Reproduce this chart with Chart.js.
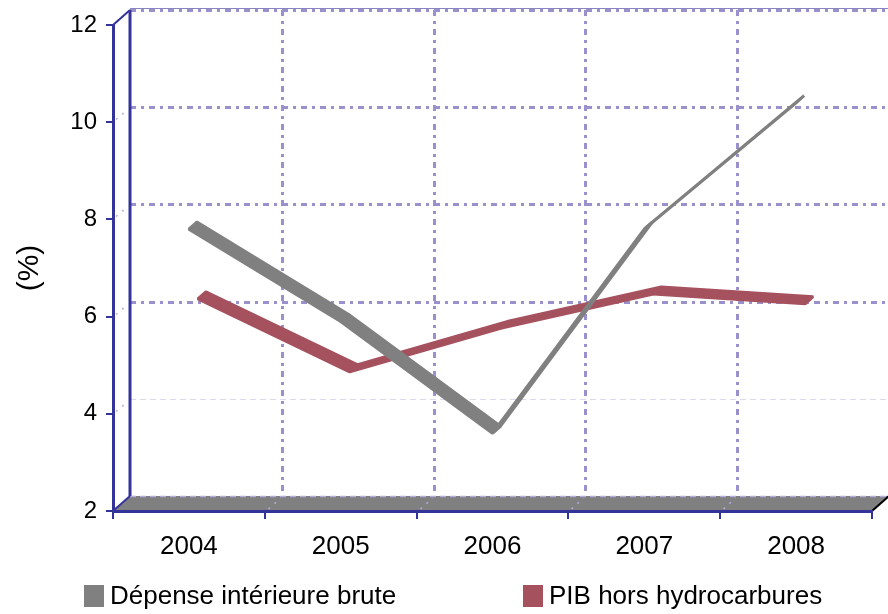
<!DOCTYPE html>
<html lang="fr">
<head>
  <meta charset="UTF-8" />
  <title>Dépense intérieure brute et PIB hors hydrocarbures</title>
  <style>
    html, body { margin: 0; padding: 0; background: #fff; }
    #wrap { width: 888px; height: 614px; }
  </style>
</head>
<body>
  <div id="wrap"><canvas id="myChart" width="888" height="614"></canvas></div>

  <script src="https://cdn.jsdelivr.net/npm/chart.js"></script>
  <script>
    // data
    const years = ['2004', '2005', '2006', '2007', '2008'];
    const depenseInterieure = [7.8, 5.9, 3.6, 7.8, 10.4];
    const pibHorsHydro = [6.2, 4.7, 5.6, 6.3, 6.1];
    const yTicks = [2, 4, 6, 8, 10, 12];

    const BLUE = '#333399';
    const GRID = '#9a90cc';
    const FONT = '"Liberation Sans", Arial, sans-serif';
    const DEPTH = { x: 17, y: -15 };   // 3d depth of the plot box

    function dotted(ctx, x1, y1, x2, y2, color, width, dash) {
      ctx.save();
      ctx.strokeStyle = color;
      ctx.lineWidth = width;
      ctx.setLineDash(dash || [6, 5, 3, 5]);
      ctx.beginPath();
      ctx.moveTo(x1, y1);
      ctx.lineTo(x2, y2);
      ctx.stroke();
      ctx.restore();
    }

    function solid(ctx, x1, y1, x2, y2, color, width) {
      ctx.save();
      ctx.strokeStyle = color;
      ctx.lineWidth = width;
      ctx.beginPath();
      ctx.moveTo(x1, y1);
      ctx.lineTo(x2, y2);
      ctx.stroke();
      ctx.restore();
    }

    // back wall, side wall and floor
    const box3d = {
      id: 'box3d',
      beforeDraw(chart) {
        const ctx = chart.ctx;
        const { left, right, top, bottom } = chart.chartArea;
        const xs = chart.scales.x, ys = chart.scales.y;
        const dx = DEPTH.x, dy = DEPTH.y;

        // floor
        ctx.save();
        ctx.fillStyle = '#808080';
        ctx.beginPath();
        ctx.moveTo(left, bottom);
        ctx.lineTo(right, bottom);
        ctx.lineTo(right + dx, bottom + dy);
        ctx.lineTo(left + dx, bottom + dy);
        ctx.closePath();
        ctx.fill();
        ctx.restore();

        // horizontal gridlines on back wall + side wall
        yTicks.forEach(v => {
          const py = Math.round(ys.getPixelForValue(v) + dy) + 0.5;
          if (v === 2) {
            dotted(ctx, left + dx, py, right + dx, py, '#b4acdc', 1.5, [6, 4]);
          } else if (v === 4) {
            dotted(ctx, left + dx, py, right + dx, py, '#dcd8ee', 1, [6, 4]);
          } else {
            dotted(ctx, left + dx, py, right + dx, py, GRID, 3);
          }
          dotted(ctx, left + 3, py - dy - 3, left + dx - 2, py + 2, '#b4acdc', 1.5, [2, 6]);
        });
        solid(ctx, left + dx, top + dy - 1.5, right + dx, top + dy - 1.5, '#8a84c0', 1);

        // vertical gridlines at category boundaries
        for (let i = 0; i < years.length - 1; i++) {
          const bx = Math.round((xs.getPixelForValue(i) + xs.getPixelForValue(i + 1)) / 2 + dx) + 0.5;
          dotted(ctx, bx, top + dy, bx, bottom + dy, GRID, 3);
          dotted(ctx, bx - dx + 3, bottom - 2, bx - 2, bottom + dy + 2, '#b4acdc', 1.5, [2, 6]);
        }

        // box edges
        solid(ctx, left + dx, top + dy, left + dx, bottom + dy, BLUE, 3);
        solid(ctx, left, top, left + dx, top + dy, BLUE, 2);
        solid(ctx, left, bottom, left + dx, bottom + dy, BLUE, 2);
        solid(ctx, right, bottom, right + dx, bottom + dy, '#000', 2);
      }
    };

    // series drawn as flat 3d ribbons, each at its own depth
    const ribbons = {
      id: 'ribbons',
      afterDatasetsDraw(chart) {
        const ctx = chart.ctx;
        const depth = [[0, 0.47], [0.53, 1]];
        [1, 0].forEach(di => {
          const meta = chart.getDatasetMeta(di);
          const ds = chart.data.datasets[di];
          const pts = meta.data;
          const a = depth[di][0], b = depth[di][1];
          ctx.save();
          ctx.fillStyle = ds.backgroundColor;
          ctx.strokeStyle = ds.backgroundColor;
          ctx.lineWidth = 3;
          ctx.lineJoin = 'bevel';
          for (let i = 0; i < pts.length - 1; i++) {
            const p = pts[i], q = pts[i + 1];
            ctx.beginPath();
            ctx.moveTo(p.x + a * DEPTH.x, p.y + a * DEPTH.y);
            ctx.lineTo(q.x + a * DEPTH.x, q.y + a * DEPTH.y);
            ctx.lineTo(q.x + b * DEPTH.x, q.y + b * DEPTH.y);
            ctx.lineTo(p.x + b * DEPTH.x, p.y + b * DEPTH.y);
            ctx.closePath();
            ctx.fill();
            ctx.stroke();
          }
          ctx.restore();
        });
      }
    };

    // legend under the axis
    const legendRow = {
      id: 'legendRow',
      afterDraw(chart) {
        const ctx = chart.ctx;
        const xs = [84, 523];
        ctx.save();
        ctx.font = '26px ' + FONT;
        ctx.textBaseline = 'middle';
        chart.data.datasets.forEach((ds, i) => {
          ctx.fillStyle = ds.backgroundColor;
          ctx.fillRect(xs[i], 585, 20, 22);
          ctx.fillStyle = '#000';
          ctx.fillText(ds.label, xs[i] + 26, 597);
        });
        ctx.restore();
      }
    };

    new Chart(document.getElementById('myChart'), {
      type: 'line',
      data: {
        labels: years,
        datasets: [
          {
            label: 'Dépense intérieure brute',
            data: depenseInterieure,
            borderColor: '#808080',
            backgroundColor: '#808080',
            borderWidth: 0,
            pointRadius: 0
          },
          {
            label: 'PIB hors hydrocarbures',
            data: pibHorsHydro,
            borderColor: '#a5515e',
            backgroundColor: '#a5515e',
            borderWidth: 0,
            pointRadius: 0
          }
        ]
      },
      options: {
        responsive: false,
        animation: false,
        devicePixelRatio: 1,
        layout: { padding: { left: 0, top: 25, right: 16, bottom: 43 } },
        plugins: {
          legend: { display: false },
          tooltip: { enabled: false }
        },
        scales: {
          x: {
            offset: true,
            grid: {
              display: true,
              drawOnChartArea: false,
              offset: true,
              tickLength: 8,
              color: BLUE,
              lineWidth: 2
            },
            border: { display: true, color: BLUE, width: 3 },
            ticks: { color: '#000', font: { family: FONT, size: 26 }, padding: 12, maxRotation: 0 },
            afterFit(scale) { scale.height = 60; }
          },
          y: {
            min: 2,
            max: 12,
            afterBuildTicks(scale) { scale.ticks = yTicks.map(v => ({ value: v })); },
            grid: {
              display: true,
              drawOnChartArea: false,
              tickLength: 7,
              color: BLUE,
              lineWidth: 2
            },
            border: { display: true, color: BLUE, width: 3 },
            ticks: { color: '#000', font: { family: FONT, size: 24 }, padding: 9 },
            title: {
              display: true,
              text: '(%)',
              color: '#000',
              font: { family: FONT, size: 30 },
              padding: { top: 12, bottom: 0 }
            },
            afterFit(scale) { scale.width = 113; }
          }
        }
      },
      plugins: [box3d, ribbons, legendRow]
    });
  </script>
</body>
</html>
